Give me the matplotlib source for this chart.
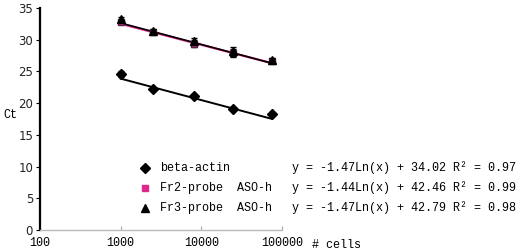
import numpy as np
import matplotlib
matplotlib.use('Agg')
import matplotlib.pyplot as plt
from matplotlib.lines import Line2D

# cell numbers (dilution series)
cells = [1000, 2500, 8000, 25000, 75000]

# Ct values
beta_actin = [24.6, 22.3, 21.1, 19.1, 18.3]
beta_err = [0.5, 0.3, 0.2, 0.2, 0.2]
fr2 = [32.8, 31.2, 29.4, 27.9, 26.7]
fr2_err = [0.3, 0.3, 0.6, 0.7, 0.3]
fr3 = [33.3, 31.4, 29.8, 28.2, 26.8]
fr3_err = [0.3, 0.3, 0.4, 0.7, 0.3]

# log trend line coefficients (slope, intercept, R2) from the legend
fits = {
    'beta-actin': (-1.47, 34.02, 0.97),
    'Fr2-probe  ASO-h': (-1.44, 42.46, 0.99),
    'Fr3-probe  ASO-h': (-1.47, 42.79, 0.98),
}

xticks = [100, 1000, 10000, 100000]
yticks = [0, 5, 10, 15, 20, 25, 30, 35]

pink = '#e0288c'
mono = 'Liberation Mono'

fig = plt.figure(figsize=(5.2, 2.52), dpi=100)
ax = fig.add_axes([40/520, 1-230/252, 242/520, 222/252])

xs = np.array([cells[0], cells[-1]], dtype=float)
xl = np.geomspace(xs[0], xs[1], 50)
names = list(fits.keys())
a, b, _ = fits[names[0]]
ax.plot(xl, a*np.log(xl)+b, color='black', lw=1.4, zorder=2)
a, b, _ = fits[names[1]]
ax.plot(xl, a*np.log(xl)+b, color=pink, lw=1.6, zorder=2)
a, b, _ = fits[names[2]]
ax.plot(xl, a*np.log(xl)+b, color='black', lw=1.2, zorder=3)

ax.errorbar(cells, beta_actin, yerr=beta_err, fmt='D', ms=5, color='black',
            capsize=2.5, elinewidth=1, zorder=4)
ax.errorbar(cells, fr2, yerr=fr2_err, fmt='s', ms=5, mfc=pink, mec='#552244',
            ecolor='black', capsize=2.5, elinewidth=1, zorder=4)
ax.errorbar(cells, fr3, yerr=fr3_err, fmt='^', ms=6, color='black',
            capsize=2.5, elinewidth=1, zorder=5)

ax.set_xscale('log')
ax.set_xlim(100, 100000)
ax.set_ylim(0, 35)
ax.set_xticks(xticks)
ax.set_xticklabels([str(t) for t in xticks], fontfamily=mono, fontsize=8.5)
ax.set_yticks(yticks)
ax.set_yticklabels([str(t) for t in yticks], fontsize=8.5, color='#222222')
ax.minorticks_off()
ax.tick_params(axis='y', direction='out', length=3, width=0.8, pad=2)
ax.tick_params(axis='x', direction='in', length=3, width=0.8, color='#aaaaaa', pad=5)

for s in ['top', 'right']:
    ax.spines[s].set_visible(False)
ax.spines['left'].set_linewidth(1.6)
ax.spines['bottom'].set_color('#bbbbbb')
ax.spines['bottom'].set_linewidth(1)

fig.text(3/520, 1-115/252, 'Ct', fontfamily=mono, fontsize=8.5, va='center')
fig.text(312/520, 1-245/252, '# cells', fontfamily=mono, fontsize=8.5, va='center')

# legend
markers = [dict(marker='D', ms=5, mfc='black', mec='black'),
           dict(marker='s', ms=5, mfc=pink, mec=pink),
           dict(marker='^', ms=6, mfc='black', mec='black')]
rows = [168, 188, 208]
for name, mk, yp in zip(names, markers, rows):
    yf = 1 - yp/252
    fig.add_artist(Line2D([145/520], [yf], transform=fig.transFigure, ls='none', **mk))
    fig.text(160/520, yf, name, fontfamily=mono, fontsize=8.5, va='center')
    a, b, r2 = fits[name]
    eq = 'y = %.2fLn(x) + %.2f R\u00b2 = %.2f' % (a, b, r2)
    fig.text(292/520, yf, eq, fontfamily=mono, fontsize=8.5, va='center')

fig.savefig('out.png', dpi=100)
